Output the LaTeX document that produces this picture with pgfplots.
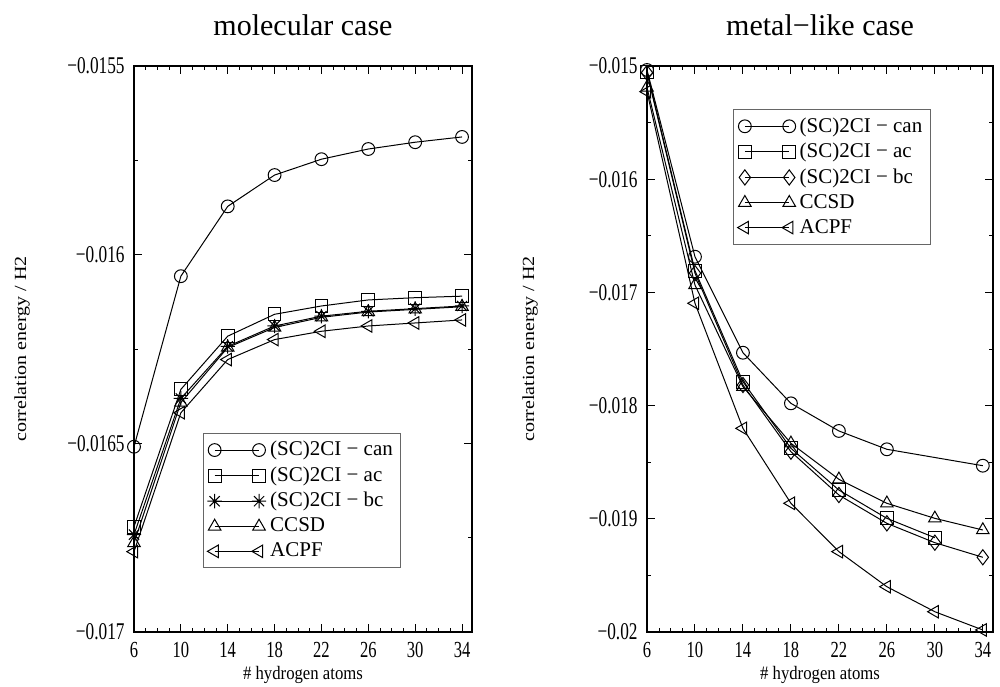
\documentclass[border=0pt]{standalone}
\usepackage{fontspec}
\setmainfont{Liberation Serif}
\usepackage{pgfplots}
\pgfplotsset{compat=1.18}

% gnuplot style star: + and x on top of each other
\pgfdeclareplotmark{gstar}{%
  \pgfpathmoveto{\pgfqpoint{-\pgfplotmarksize}{0pt}}%
  \pgfpathlineto{\pgfqpoint{\pgfplotmarksize}{0pt}}%
  \pgfpathmoveto{\pgfqpoint{0pt}{-\pgfplotmarksize}}%
  \pgfpathlineto{\pgfqpoint{0pt}{\pgfplotmarksize}}%
  \pgfpathmoveto{\pgfqpoint{-0.707\pgfplotmarksize}{-0.707\pgfplotmarksize}}%
  \pgfpathlineto{\pgfqpoint{0.707\pgfplotmarksize}{0.707\pgfplotmarksize}}%
  \pgfpathmoveto{\pgfqpoint{-0.707\pgfplotmarksize}{0.707\pgfplotmarksize}}%
  \pgfpathlineto{\pgfqpoint{0.707\pgfplotmarksize}{-0.707\pgfplotmarksize}}%
  \pgfusepathqstroke}

\pgfplotsset{
  panel/.style={
    scale only axis,
    height=283pt,
    xmin=6, xmax=34.85,
    xtick={6,10,...,34},
    xticklabels={6,10,14,18,22,26,30,34},
    minor x tick num=3,
    minor y tick num=1,
    scaled y ticks=false,
    tick align=inside,
    xtick pos=both, ytick pos=both,
    major tick length=4pt, minor tick length=2pt,
    axis line style={line width=0.8pt},
    every tick/.style={black, line width=0.5pt},
    clip=false,
    tick label style={font=\fontsize{12}{14}\selectfont, xscale=0.72},
    yticklabel style={xshift=-3pt},
    xticklabel style={font=\fontsize{11.5}{13}\selectfont, yshift=-1.5pt},
    title style={font=\fontsize{15}{17}\selectfont, at={(0.5,1)}, anchor=center, yshift=14.5pt},
    xlabel={\# hydrogen atoms},
    ylabel={correlation energy / H2},
    xlabel style={font=\fontsize{9.5}{11}\selectfont, xscale=0.88, inner sep=0.5pt,
      at={(axis description cs:0.5,0)}, anchor=center, yshift=-21.5pt},
    legend cell align=left,
    legend image code/.code={\draw[##1] plot coordinates {(0cm,0cm) (0.78cm,0cm)};},
    legend style={font=\fontsize{10.5}{12}\selectfont, draw=black!60, line width=0.5pt,
      inner sep=2pt, anchor=north west, row sep=0pt},
    every axis plot/.append style={black, line width=0.5pt, mark size=3.2pt,
      mark options={solid, fill=none}},
  },
  can/.style={mark=o},
  ac/.style={mark=square},
  bc/.style={mark=gstar, mark size=3.6pt},
  dia/.style={mark=diamond, mark size=3.8pt},
  ccsd/.style={mark=triangle, mark size=3.6pt},
  acpf/.style={mark=triangle, mark size=3.6pt, mark options={rotate=90}},
}

\begin{document}
\begin{tikzpicture}
\useasboundingbox (0,0) rectangle (500pt,343pt);

\begin{axis}[panel,
    at={(67pt,27pt)}, anchor=south west, width=169pt,
    ymin=-0.017, ymax=-0.0155,
    ytick={-0.017,-0.0165,-0.016,-0.0155},
    yticklabels={−0.017,−0.0165,−0.016,−0.0155},
    title={molecular case},
    ylabel style={font=\fontsize{10}{12}\selectfont, yscale=0.85, at={(axis description cs:-0.331,0.5)}, anchor=center},
    legend style={at={(0.204,0.352)}},
]
\addplot[can] coordinates {(6,-0.016509)(10,-0.016057)(14,-0.015872)(18,-0.015789)(22,-0.015747)(26,-0.015720)(30,-0.015702)(34,-0.015688)};
\addplot[ac] coordinates {(6,-0.016721)(10,-0.016357)(14,-0.016216)(18,-0.016158)(22,-0.016136)(26,-0.016120)(30,-0.016114)(34,-0.016110)};
\addplot[bc] coordinates {(6,-0.016742)(10,-0.016381)(14,-0.016243)(18,-0.016189)(22,-0.016163)(26,-0.016150)(30,-0.016143)(34,-0.016136)};
\addplot[ccsd] coordinates {(6,-0.016764)(10,-0.016392)(14,-0.016246)(18,-0.016193)(22,-0.016166)(26,-0.016152)(30,-0.016145)(34,-0.016138)};
\addplot[acpf] coordinates {(6,-0.016787)(10,-0.016419)(14,-0.016278)(18,-0.016225)(22,-0.016203)(26,-0.016189)(30,-0.016181)(34,-0.016173)};
\legend{(SC)2CI − can,(SC)2CI − ac,(SC)2CI − bc,CCSD,ACPF}
\end{axis}

\begin{axis}[panel,
    at={(323.5pt,27pt)}, anchor=south west, width=173pt,
    ymin=-0.02, ymax=-0.015,
    ytick={-0.02,-0.019,-0.018,-0.017,-0.016,-0.015},
    yticklabels={−0.02,−0.019,−0.018,−0.017,−0.016,−0.015},
    title={metal−like case},
    ylabel style={font=\fontsize{10}{12}\selectfont, yscale=0.85, at={(axis description cs:-0.338,0.5)}, anchor=center},
    legend style={at={(0.249,0.924)}},
]
\addplot[can] coordinates {(6,-0.015035)(10,-0.016685)(14,-0.017533)(18,-0.017980)(22,-0.018224)(26,-0.018386)(34,-0.018531)};
\addplot[ac] coordinates {(6,-0.015050)(10,-0.016808)(14,-0.017789)(18,-0.018377)(22,-0.018746)(26,-0.018996)(30,-0.019167)};
\addplot[dia] coordinates {(6,-0.015060)(10,-0.016830)(14,-0.017818)(18,-0.018407)(22,-0.018790)(26,-0.019040)(30,-0.019211)(34,-0.019340)};
\addplot[ccsd] coordinates {(6,-0.015190)(10,-0.016935)(14,-0.017833)(18,-0.018333)(22,-0.018651)(26,-0.018863)(30,-0.018996)(34,-0.019099)};
\addplot[acpf] coordinates {(6,-0.015227)(10,-0.017096)(14,-0.018201)(18,-0.018863)(22,-0.019290)(26,-0.019600)(30,-0.019821)(34,-0.019982)};
\legend{(SC)2CI − can,(SC)2CI − ac,(SC)2CI − bc,CCSD,ACPF}
\end{axis}
\end{tikzpicture}
\end{document}
